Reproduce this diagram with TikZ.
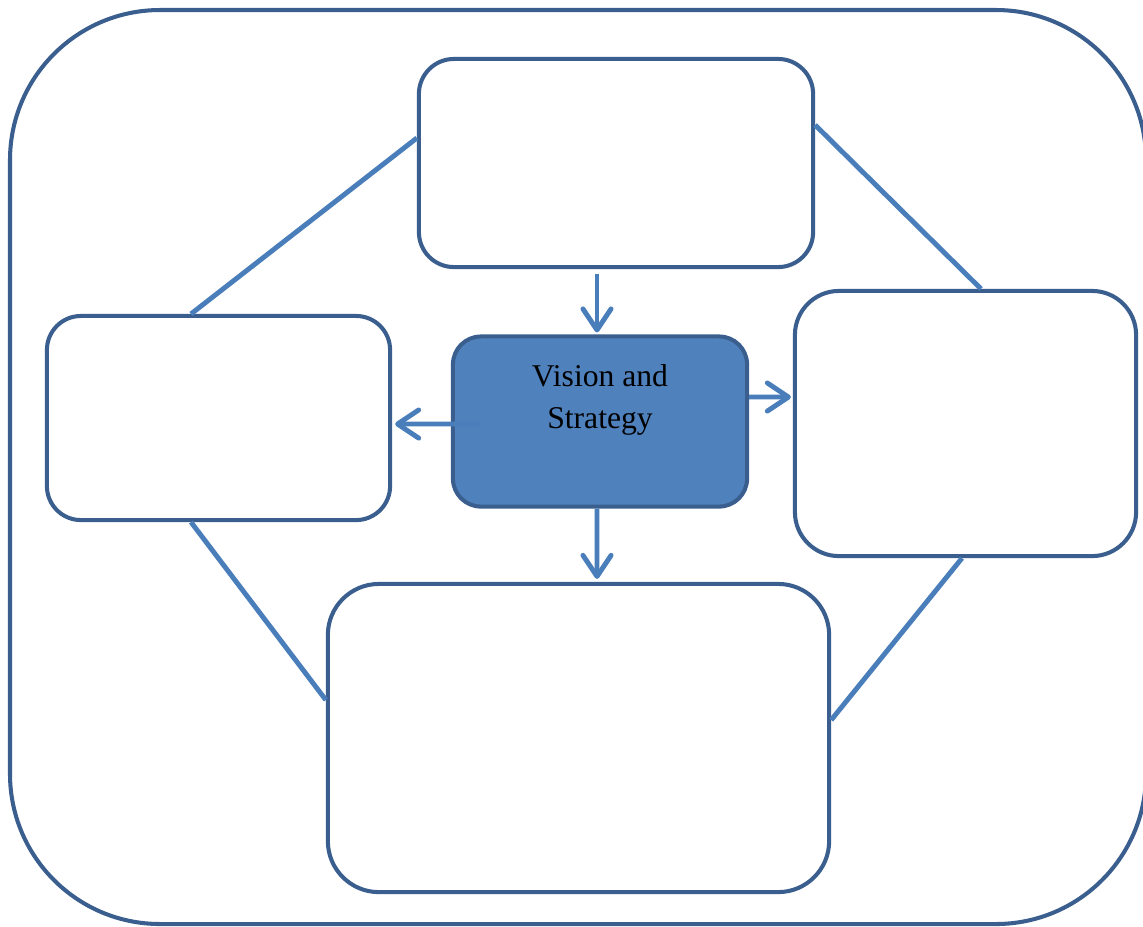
\documentclass[tikz,border=0pt]{standalone}
\usepackage{fontspec}
\setmainfont{Liberation Serif}
\usetikzlibrary{arrows.meta}
\definecolor{boxline}{HTML}{3A5F8E}
\definecolor{boxfill}{HTML}{4F81BD}
\definecolor{linkline}{HTML}{4A7EBB}
\tikzset{
every node/.style={rectangle, draw=boxline, line width=1.15pt, fill=white, inner sep=0pt},
link/.style={draw=linkline, line width=1.4pt},
flow/.style={link, -{Straight Barb[length=6pt,width=8pt,round]}}
}

\begin{document}
\begin{tikzpicture}[x=0.01cm, y=-0.01cm]
\useasboundingbox (0,0) rectangle (1143,926);
\begin{scope}
\clip (0,0) rectangle (1143,926);
\draw[boxline, line width=1.15pt, rounded corners=1.5cm] (10,10) rectangle (1146,924);
\end{scope}

\node[minimum width=3.94cm, minimum height=2.08cm, rounded corners=0.35cm] (t) at (616,163) {};
\node[minimum width=3.43cm, minimum height=2.04cm, rounded corners=0.34cm] (l) at (218.5,418) {};
\node[minimum width=3.41cm, minimum height=2.65cm, rounded corners=0.44cm] (r) at (965.5,423.5) {};
\node[minimum width=5.01cm, minimum height=3.08cm, rounded corners=0.51cm] (b) at (578.5,738) {};
\node[minimum width=2.94cm, minimum height=1.70cm, rounded corners=0.28cm, fill=boxfill] (vs) at (600,421.5) {};
\node[draw=none, fill=none, align=center, anchor=north, font=\fontsize{9}{11.9}\selectfont] (vstext) at ([yshift=-0.28cm]vs.north) {Vision and\\Strategy};

\draw[link] ([yshift=0.25cm]t.west) -- ([xshift=-0.275cm]l.north);
\draw[link] ([yshift=0.38cm]t.east) -- ([xshift=0.155cm]r.north);
\draw[link] ([xshift=-0.275cm]l.south) -- ([yshift=0.38cm]b.west);
\draw[link] ([xshift=-0.035cm]r.south) -- ([yshift=0.18cm]b.east);

\draw[flow] ([xshift=-0.03cm,yshift=-0.05cm]t.south -| vs.north) -- ([xshift=-0.03cm,yshift=0.02cm]vs.north);
\draw[flow] ([xshift=0.29cm,yshift=-0.025cm]vs.west) -- ([xshift=0.03cm,yshift=-0.06cm]l.east);
\draw[flow] ([yshift=0.245cm]vs.east) -- ([xshift=-0.02cm,yshift=0.265cm]r.west);
\draw[flow] ([xshift=-0.03cm]vs.south) -- ([xshift=0.185cm,yshift=0.03cm]b.north);
\end{tikzpicture}
\end{document}
